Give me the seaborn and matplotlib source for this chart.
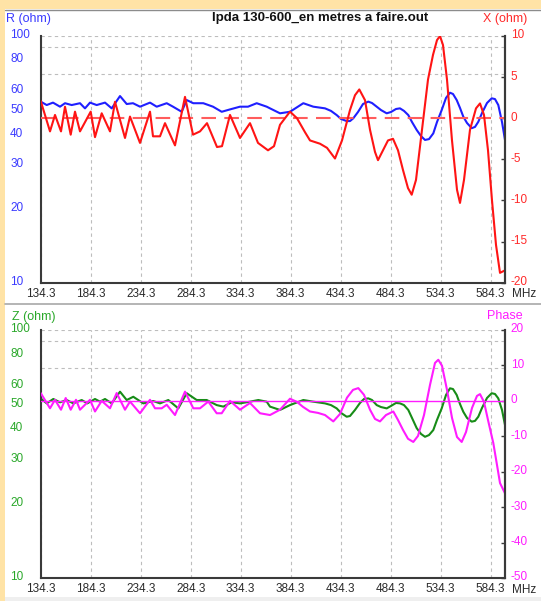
import matplotlib
matplotlib.use("Agg")
import matplotlib.pyplot as plt
import matplotlib.transforms as mtransforms
import seaborn as sns
from matplotlib.patches import Rectangle
from matplotlib.lines import Line2D
from matplotlib.ticker import FixedLocator, FixedFormatter, NullFormatter, NullLocator

# ---- sweep data (MHz) ----
freq_r = [134.3, 140.3, 146.6, 153.6, 158.6, 165.3, 173.6, 178.6, 183.6, 190.3,
          198.6, 205.3, 213.6, 220.3, 226.6, 233.6, 243.6, 250.3, 260.3, 266.6,
          275.3, 280.3, 286.9, 296.9, 306.6, 315.3, 323.6, 333.6, 341.6, 350.3,
          360.3, 363.6, 373.6, 383.6, 396.9, 406.9, 418.6, 424.6, 430.3, 434.6,
          440.3, 443.6, 446.9, 451.6, 456.6, 461.9, 465.6, 470.3, 474.6, 480.3,
          484.6, 489.6, 493.6, 497.6, 501.9, 505.6, 510.3, 514.6, 518.6, 522.6,
          526.9, 530.6, 535.3, 539.6, 543.6, 546.6, 550.3, 553.6, 556.9, 560.6,
          565.3, 568.6, 571.9, 575.6, 580.6, 585.3, 588.6, 591.9, 595.6, 598.6]
r_ohm = [54.2, 52.5, 53.7, 51.7, 53.4, 52.5, 53.4, 50.9, 53.7, 52.5,
         53.7, 50.9, 57.1, 53.0, 53.4, 51.7, 53.7, 51.7, 53.4, 51.7,
         49.3, 55.0, 53.4, 53.4, 51.7, 49.3, 50.4, 51.7, 51.7, 53.4,
         51.7, 50.9, 48.6, 49.3, 53.4, 51.7, 50.9, 49.7, 47.8, 46.1,
         45.2, 45.2, 46.4, 49.2, 53.0, 54.2, 53.5, 51.7, 50.1, 48.6,
         49.2, 50.6, 50.9, 49.7, 47.8, 44.8, 41.6, 39.3, 37.9, 38.2,
         40.3, 44.8, 50.1, 56.1, 58.9, 58.2, 55.0, 51.1, 47.1, 44.4,
         42.3, 42.8, 44.9, 48.7, 53.5, 55.9, 55.5, 52.5, 44.8, 37.9]

freq_x = [134.3, 143.6, 148.6, 154.6, 158.6, 164.3, 168.6, 173.6, 184.3, 188.6,
          195.3, 203.6, 208.6, 218.6, 223.6, 233.6, 243.6, 246.6, 253.6, 258.6,
          268.6, 278.6, 286.6, 293.6, 300.6, 310.6, 315.6, 323.6, 333.6, 343.6,
          351.6, 361.6, 367.6, 373.6, 383.6, 390.6, 398.6, 403.6, 408.6, 413.6,
          420.6, 428.6, 435.6, 443.6, 448.6, 452.9, 458.6, 463.6, 468.6, 471.6,
          476.6, 481.6, 486.6, 491.6, 496.6, 501.6, 505.3, 509.6, 515.6, 521.6,
          526.6, 530.6, 533.6, 536.6, 540.6, 545.6, 550.6, 553.6, 557.6, 563.6,
          569.6, 573.6, 577.6, 581.6, 585.6, 589.6, 593.6, 598.6]
x_ohm = [2.1, -1.6, 0.4, -1.6, 1.4, -2.0, 0.8, -1.6, 0.8, -2.3,
         0.6, -1.6, 2.0, -2.4, 0.2, -3.0, 0.8, -2.2, -2.2, -0.6,
         -3.3, 2.6, -2.0, -1.6, -0.6, -3.5, -3.4, 0.4, -2.4, -0.6,
         -3.0, -3.9, -3.4, -0.8, 0.8, 0.0, -1.7, -2.7, -2.9, -3.1,
         -3.6, -4.9, -2.7, 1.0, 2.8, 3.5, 2.2, -1.4, -4.1, -5.1,
         -3.9, -2.7, -2.5, -3.9, -6.3, -8.5, -9.3, -7.5, -1.4, 4.7,
         7.7, 9.5, 10.0, 8.9, 4.7, -2.7, -8.7, -10.3, -7.5, -1.4,
         1.2, 1.8, 0.4, -3.9, -10.0, -15.4, -18.8, -18.5]

freq_z = [134.3, 140.3, 146.9, 153.6, 160.3, 166.9, 175.3, 180.9, 188.6, 193.6,
          198.6, 205.3, 213.6, 220.3, 226.9, 236.9, 246.9, 253.6, 261.9, 271.9,
          280.3, 290.3, 300.3, 310.3, 316.9, 325.3, 333.6, 343.6, 351.9, 360.3,
          363.6, 373.6, 383.6, 396.9, 406.9, 418.6, 424.6, 430.3, 434.6, 440.3,
          443.6, 448.6, 453.6, 457.6, 461.9, 465.6, 470.3, 474.6, 480.3, 484.6,
          489.6, 493.6, 497.6, 501.9, 505.6, 510.3, 514.6, 518.6, 522.6, 526.9,
          530.6, 535.3, 539.6, 543.6, 546.6, 550.3, 553.6, 556.9, 560.6, 565.3,
          568.6, 571.9, 575.6, 580.6, 585.3, 588.6, 591.9, 595.6, 598.6]
z_ohm = [53.0, 50.6, 52.7, 51.1, 52.2, 50.6, 52.2, 50.6, 52.7, 51.4,
         52.7, 50.6, 56.4, 52.2, 53.8, 50.6, 51.7, 50.6, 52.2, 48.3,
         55.6, 52.2, 52.2, 49.8, 49.1, 51.1, 50.6, 51.4, 52.2, 51.4,
         49.1, 47.6, 49.8, 52.2, 51.4, 50.6, 49.8, 48.3, 46.3, 44.7,
         45.0, 47.6, 50.8, 52.7, 53.0, 52.2, 49.8, 48.9, 48.3, 49.4,
         50.8, 50.6, 49.8, 47.6, 44.2, 40.2, 38.1, 37.1, 37.7, 39.5,
         43.4, 48.3, 54.7, 58.2, 57.8, 54.7, 50.3, 46.8, 44.2, 42.7,
         43.0, 44.7, 48.5, 53.2, 55.6, 55.2, 53.0, 47.6, 41.4]

freq_p = [134.3, 143.6, 148.6, 154.6, 159.3, 164.3, 169.6, 173.6, 183.6, 188.6,
          195.3, 203.6, 210.3, 218.6, 223.6, 233.6, 243.6, 248.6, 255.3, 260.3,
          268.6, 278.6, 286.9, 293.6, 301.9, 310.3, 315.3, 323.6, 333.6, 343.6,
          353.6, 363.6, 373.6, 383.6, 390.6, 396.6, 403.6, 411.6, 418.6, 426.9,
          433.6, 440.6, 446.6, 451.9, 457.6, 463.6, 468.6, 473.6, 479.6, 486.9,
          491.6, 496.6, 501.6, 506.9, 511.6, 517.6, 523.6, 528.6, 531.9, 535.6,
          540.6, 545.6, 550.6, 555.3, 559.6, 565.6, 570.6, 573.6, 577.6, 581.6,
          586.9, 590.6, 593.6, 598.6]
phase_deg = [2.2, -2.1, 0.3, -2.5, 0.8, -2.5, 0.3, -2.5, 0.3, -3.0,
             0.0, -2.1, 2.2, -2.5, -0.2, -3.5, 0.3, -2.1, -2.1, -1.1,
             -4.0, 2.6, -2.1, -2.1, -0.2, -3.5, -3.5, 0.0, -2.5, -0.6,
             -3.5, -4.0, -2.5, 0.6, -0.3, -1.7, -3.0, -3.4, -4.0, -5.8,
             -3.7, 0.9, 3.1, 3.6, 1.7, -2.5, -5.1, -5.8, -4.0, -3.0,
             -5.4, -8.2, -10.7, -11.6, -9.9, -4.0, 4.5, 10.7, 11.6, 9.9,
             3.1, -4.8, -10.2, -11.6, -8.8, -2.0, 1.4, 1.9, -0.3, -5.4,
             -11.9, -18.1, -23.2, -26.1]

# ---- axis scales ----
f_min, f_max = 134.3, 598.6
freq_ticks = [134.3, 184.3, 234.3, 284.3, 334.3, 384.3, 434.3, 484.3, 534.3, 584.3]
freq_labels = ["134.3", "184.3", "234.3", "284.3", "334.3",
               "384.3", "434.3", "484.3", "534.3", "584.3"]
ohm_ticks = [10, 20, 30, 40, 50, 60, 80, 100]
ohm_grid = [20, 30, 40, 50, 60, 70, 80, 90]
react_ticks = [-20, -15, -10, -5, 0, 5, 10]
phase_ticks = [-50, -40, -30, -20, -10, 0, 10, 20]

BLUE = "#1F1FFF"
BLUE_TXT = "#3A3AFF"
RED = "#FF1414"
RED_TXT = "#FF2A2A"
GREEN = "#178C17"
GREEN_TXT = "#2AA82A"
MAGENTA = "#FF1CFF"
INK = "#2B2B2B"
GRID = "#BDBDBD"
FRAME = "#FFE3A6"
LW = 1.5
FS = 8.5

sns.set_style("white")
plt.rcParams["font.family"] = ["Liberation Sans", "DejaVu Sans"]
plt.rcParams["axes.unicode_minus"] = False

W, H = 541, 601
fig = plt.figure(figsize=(W / 100, H / 100), dpi=100)
fig.patch.set_facecolor("white")


def px_box(left, top, right, bottom):
    return [left / W, 1 - bottom / H, (right - left) / W, (bottom - top) / H]


# window frame
fig.patches.append(Rectangle((0, 1 - 9 / H), 1, 9 / H, transform=fig.transFigure,
                             facecolor=FRAME, edgecolor="none", zorder=0))
fig.patches.append(Rectangle((0, 0), 4.5 / W, 1, transform=fig.transFigure,
                             facecolor=FRAME, edgecolor="none", zorder=0))
fig.patches.append(Rectangle((4.5 / W, 0), 1, 4 / H, transform=fig.transFigure,
                             facecolor="#EFEFEF", edgecolor="none", zorder=0))
fig.lines.append(Line2D([4.5 / W, 1], [1 - 9.5 / H] * 2, transform=fig.transFigure,
                        color="#8C8C8C", lw=1.0))
fig.lines.append(Line2D([4.5 / W, 1], [1 - 303.5 / H] * 2, transform=fig.transFigure,
                        color="#A8A8A8", lw=1.2))

lift = mtransforms.ScaledTranslation(0, 2 / 100, fig.dpi_scale_trans)


def panel(box, fl, yl, fr, yr, left_color, left_txt, right_color, right_txt,
          right_ticks, right_lim, zero_style):
    ax = fig.add_axes(box)
    ax.set_facecolor("white")
    ax.set_yscale("log")
    ax.set_xlim(f_min, f_max)
    ax.set_ylim(10, 100)

    ax.xaxis.set_major_locator(FixedLocator(freq_ticks))
    ax.xaxis.set_major_formatter(FixedFormatter(freq_labels))
    ax.yaxis.set_major_locator(FixedLocator(ohm_ticks))
    ax.yaxis.set_major_formatter(FixedFormatter([str(v) for v in ohm_ticks]))
    ax.yaxis.set_minor_locator(FixedLocator(ohm_grid))
    ax.yaxis.set_minor_formatter(NullFormatter())
    ax.grid(axis="x", which="major", color=GRID, ls=(0, (3, 3)), lw=0.8)
    ax.grid(axis="y", which="minor", color=GRID, ls=(0, (3, 3)), lw=0.8)
    ax.grid(axis="y", which="major", visible=False)
    ax.axhline(100, color=GRID, ls=(0, (3, 3)), lw=0.8)

    sns.lineplot(x=fl, y=yl, ax=ax, color=left_color, linewidth=LW,
                 errorbar=None, legend=False)

    for s in ("left", "bottom", "right"):
        ax.spines[s].set_color("#3A3A3A")
        ax.spines[s].set_linewidth(1.5)
    ax.spines["top"].set_visible(False)

    ax.tick_params(axis="x", which="both", length=0, pad=3.5, labelsize=FS,
                   labelcolor=INK)
    ax.tick_params(axis="y", which="both", length=0, pad=22, labelsize=FS,
                   labelcolor=left_txt)
    for lbl in ax.get_yticklabels():
        lbl.set_horizontalalignment("left")
        lbl.set_transform(lbl.get_transform() + lift)
    ax.set_xlabel("")
    ax.set_ylabel("")

    ax2 = ax.twinx()
    ax2.set_ylim(*right_lim)
    ax2.yaxis.set_major_locator(FixedLocator(right_ticks))
    ax2.yaxis.set_major_formatter(FixedFormatter([str(v) for v in right_ticks]))
    ax2.yaxis.set_minor_locator(NullLocator())
    ax2.axhline(0, **zero_style)
    sns.lineplot(x=fr, y=yr, ax=ax2, color=right_color, linewidth=LW,
                 errorbar=None, legend=False)
    ax2.set_ylabel("")
    ax2.grid(False)
    for s in ("left", "bottom", "top"):
        ax2.spines[s].set_visible(False)
    ax2.spines["right"].set_color("#3A3A3A")
    ax2.spines["right"].set_linewidth(1.5)
    ax2.tick_params(axis="y", direction="in", length=3, width=1, color="#3A3A3A",
                    pad=4, labelsize=FS, labelcolor=right_txt)
    for lbl in ax2.get_yticklabels():
        lbl.set_transform(lbl.get_transform() + lift)
    ax2.set_xlim(f_min, f_max)
    return ax, ax2


top, top2 = panel(px_box(40.7, 36, 505, 282.7), freq_r, r_ohm, freq_x, x_ohm,
                  BLUE, BLUE_TXT, RED, RED_TXT, react_ticks, (-20, 10),
                  dict(color="#FF5C5C", lw=1.5, ls=(0, (7, 4)), zorder=1))
bot, bot2 = panel(px_box(40.7, 330, 505, 578), freq_z, z_ohm, freq_p, phase_deg,
                  GREEN, GREEN_TXT, MAGENTA, MAGENTA, phase_ticks, (-50, 20),
                  dict(color=MAGENTA, lw=1.0, ls="-", zorder=1))

# headers
fig.text(6 / W, 1 - 19 / H, "R (ohm)", color=BLUE_TXT, fontsize=9, va="center", ha="left")
fig.text(483 / W, 1 - 19 / H, "X (ohm)", color=RED_TXT, fontsize=9, va="center", ha="left")
fig.text(320 / W, 1 - 18 / H, "lpda 130-600_en metres a faire.out", color="#111111",
         fontsize=9.5, fontweight="bold", va="center", ha="center")
fig.text(12 / W, 1 - 317 / H, "Z (ohm)", color=GREEN_TXT, fontsize=9, va="center", ha="left")
fig.text(487 / W, 1 - 316 / H, "Phase", color=MAGENTA, fontsize=9, va="center", ha="left")
fig.text(512 / W, 1 - 294 / H, "MHz", color=INK, fontsize=FS, va="center", ha="left")
fig.text(512 / W, 1 - 590 / H, "MHz", color=INK, fontsize=FS, va="center", ha="left")

fig.savefig("out.png", dpi=100)
